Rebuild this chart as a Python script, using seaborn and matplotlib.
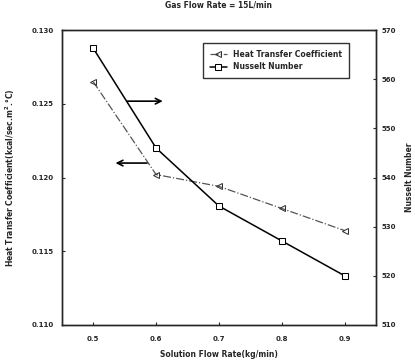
import matplotlib
matplotlib.use("Agg")
import matplotlib.pyplot as plt
import seaborn as sns
import pandas as pd

flow_rate = [0.5, 0.6, 0.7, 0.8, 0.9]
heat_coef = [0.1265, 0.1202, 0.1194, 0.1179, 0.1164]
nusselt = [566.3, 546.0, 534.2, 527.1, 520.0]

left_ticks = [0.110, 0.115, 0.120, 0.125, 0.130]
right_ticks = [510, 520, 530, 540, 550, 560, 570]
x_ticks = [0.5, 0.6, 0.7, 0.8, 0.9]

df = pd.DataFrame({"flow": flow_rate, "htc": heat_coef, "nu": nusselt})

sns.set_style("ticks")
plt.rcParams["font.family"] = ["DejaVu Sans"]
plt.rcParams["font.weight"] = "bold"
plt.rcParams["axes.labelweight"] = "bold"
plt.rcParams["xtick.direction"] = "in"
plt.rcParams["ytick.direction"] = "in"

fig = plt.figure(figsize=(4.15, 3.63), dpi=100)
ax = fig.add_axes([0.149, 0.105, 0.757, 0.812])
ax2 = ax.twinx()

sns.lineplot(data=df, x="flow", y="htc", ax=ax, color="#555555", linestyle="-.",
             linewidth=0.9, marker="<", markersize=4, markerfacecolor="none",
             markeredgecolor="#333333", label="Heat Transfer Coefficient", legend=False)
sns.lineplot(data=df, x="flow", y="nu", ax=ax2, color="black", linestyle="-",
             linewidth=1.1, marker="s", markersize=4, markerfacecolor="white",
             markeredgecolor="black", label="Nusselt Number", legend=False)

ax.set_xlim(0.45, 0.95)
ax.set_ylim(0.110, 0.130)
ax2.set_ylim(510, 570)
ax.set_xticks(x_ticks)
ax.set_xticklabels([f"{v:.1f}" for v in x_ticks], fontsize=5, fontweight="bold")
ax.set_yticks(left_ticks)
ax.set_yticklabels([f"{v:.3f}" for v in left_ticks], fontsize=5, fontweight="bold")
ax2.set_yticks(right_ticks)
ax2.set_yticklabels([str(v) for v in right_ticks], fontsize=5, fontweight="bold")
ax.tick_params(axis="x", length=2, width=0.8, pad=8)
ax.tick_params(axis="y", length=2, width=0.8, pad=6)
ax2.tick_params(axis="y", length=2, width=0.8, pad=4)
for a in (ax, ax2):
    for s in a.spines.values():
        s.set_linewidth(1.0)

ax.set_xlabel("Solution Flow Rate(kg/min)", fontsize=5.5, fontweight="bold", labelpad=6)
ax.set_ylabel("Heat Transfer Coefficient(kcal/sec.m$^2$.°C)", fontsize=5.5,
              fontweight="bold", labelpad=10)
ax2.set_ylabel("Nusselt Number", fontsize=5.5, fontweight="bold", labelpad=6)
ax.set_title("Gas Flow Rate = 15L/min", fontsize=5.5, fontweight="bold", pad=16)

# direction arrows pointing to each curve's axis
ax.annotate("", xy=(0.33, 0.759), xytext=(0.20, 0.759), xycoords="axes fraction",
            arrowprops=dict(arrowstyle="->", lw=1.2, color="black"))
ax.annotate("", xy=(0.162, 0.549), xytext=(0.28, 0.549), xycoords="axes fraction",
            arrowprops=dict(arrowstyle="->", lw=1.2, color="black"))

h1, l1 = ax.get_legend_handles_labels()
h2, l2 = ax2.get_legend_handles_labels()
leg = ax2.legend(h1 + h2, l1 + l2, loc="upper right", bbox_to_anchor=(0.925, 0.97),
                 fontsize=5.5, frameon=True, fancybox=False, edgecolor="black",
                 handlelength=2.2, borderpad=0.9)
leg.get_frame().set_linewidth(1.0)
for t in leg.get_texts():
    t.set_fontweight("bold")

fig.savefig("out.png", dpi=100)
